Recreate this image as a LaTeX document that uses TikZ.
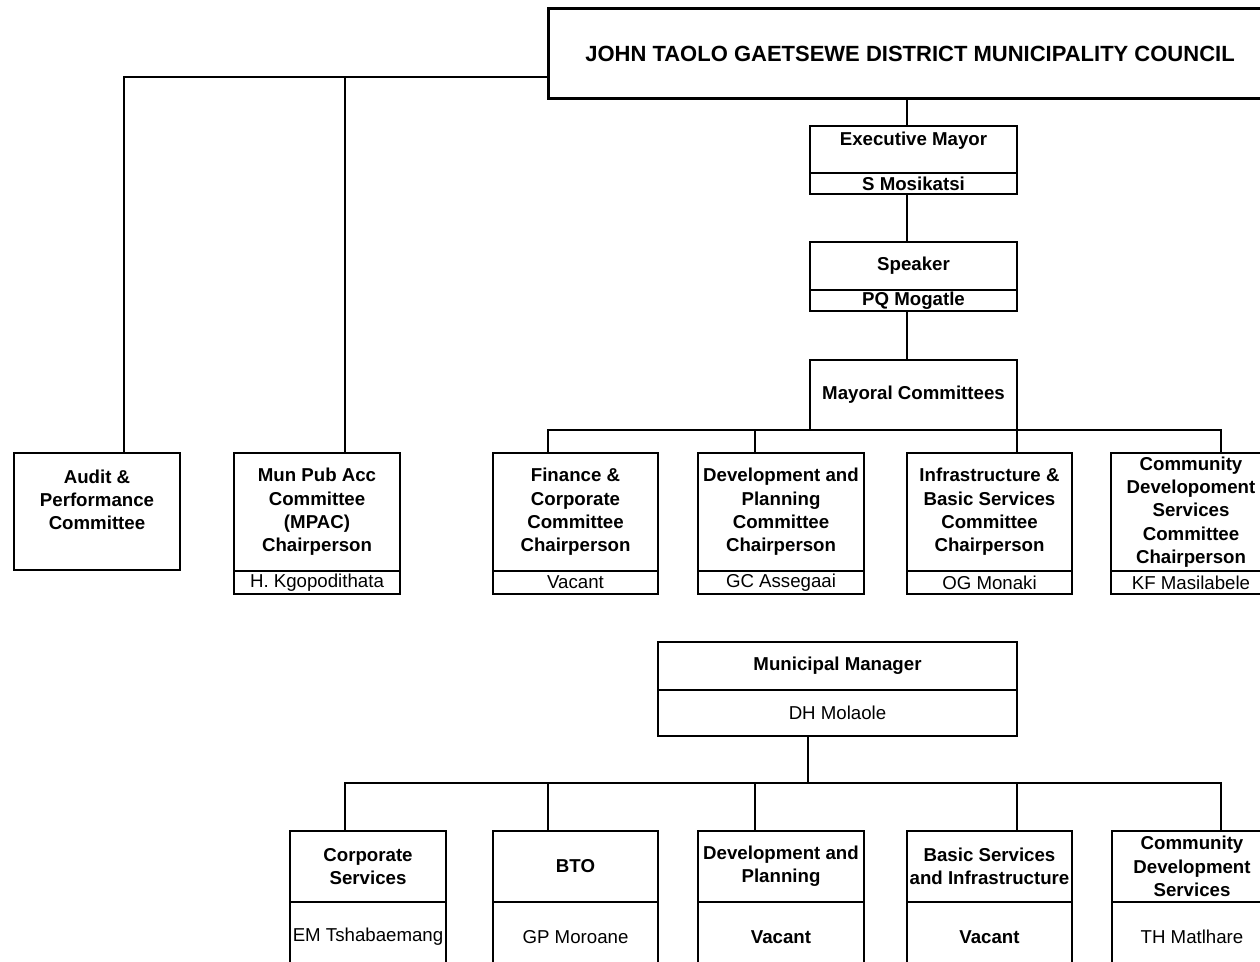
\documentclass[tikz,border=0pt]{standalone}
\usepackage{fontspec}
\setmainfont{Liberation Sans}
\usetikzlibrary{positioning, calc}

\begin{document}
\begin{tikzpicture}[
  x=0.75pt, y=-0.75pt,
  box/.style={draw, line width=1.5pt, inner sep=0pt, outer sep=0pt,
              anchor=north west, align=center,
              font=\bfseries\fontsize{14}{17.5}\selectfont},
  namebox/.style={box, font=\fontsize{14}{17.5}\selectfont},
  wd/.style={minimum width=#1*0.75pt},
  ht/.style={minimum height=#1*0.75pt},
  link/.style={line width=1.5pt},
]
\useasboundingbox (0,0) rectangle (1260,962);

% ---- council and office bearers ----
\node[box, line width=2.25pt, wd=724, ht=90,
      font=\bfseries\fontsize{16.5}{20}\selectfont] (council) at (548,9)
  {JOHN TAOLO GAETSEWE DISTRICT MUNICIPALITY COUNCIL};

\node[box, wd=207, ht=47, text depth=16.7pt] (mayor) at (810,126) {Executive Mayor};
\node[box, wd=207, ht=21, below=0pt of mayor] (mayorname) {S Mosikatsi};

\node[box, wd=207, ht=48] (speaker) at (810,242) {Speaker};
\node[box, wd=207, ht=21, below=0pt of speaker] (speakername) {PQ Mogatle};

\node[box, wd=207, ht=70] (mayoral) at (810,360) {Mayoral Committees};

% ---- committees ----
\node[box, wd=166, ht=117] (audit) at (14,453)
  {Audit \&\\Performance\\Committee\\\mbox{}};

\node[box, wd=166, ht=118] (mpac) at (234,453)
  {Mun Pub Acc\\Committee\\(MPAC)\\Chairperson};
\node[namebox, wd=166, ht=23, below=0pt of mpac] (mpacname) {H. Kgopodithata};

\node[box, wd=165, ht=118] (fin) at (493,453)
  {Finance \&\\Corporate\\Committee\\Chairperson};
\node[namebox, wd=165, ht=23, below=0pt of fin] (finname) {Vacant};

\node[box, wd=166, ht=118] (dev) at (698,453)
  {Development and\\Planning\\Committee\\Chairperson};
\node[namebox, wd=166, ht=23, below=0pt of dev] (devname) {GC Assegaai};

\node[box, wd=165, ht=118] (infra) at (907,453)
  {Infrastructure \&\\Basic Services\\Committee\\Chairperson};
\node[namebox, wd=165, ht=23, below=0pt of infra] (infraname) {OG Monaki};

\node[box, wd=160, ht=118] (comm) at (1111,453)
  {Community\\Developoment\\Services\\Committee\\Chairperson};
\node[namebox, wd=160, ht=23, below=0pt of comm] (commname) {KF Masilabele};

% ---- administration ----
\node[box, wd=359, ht=48] (mm) at (658,642) {Municipal Manager};
\node[namebox, wd=359, ht=46, below=0pt of mm] (mmname) {DH Molaole};

\node[box, wd=156, ht=71] (corp) at (290,831) {Corporate\\Services};
\node[namebox, wd=156, ht=70, below=0pt of corp] (corpname) {EM Tshabaemang};

\node[box, wd=165, ht=71] (bto) at (493,831) {BTO};
\node[namebox, wd=165, ht=70, below=0pt of bto] (btoname) {GP Moroane};

\node[box, wd=166, ht=71] (devp) at (698,831) {Development and\\Planning};
\node[box, wd=166, ht=70, below=0pt of devp] (devpname) {Vacant};

\node[box, wd=165, ht=71] (basic) at (907,831) {Basic Services\\and Infrastructure};
\node[box, wd=165, ht=70, below=0pt of basic] (basicname) {Vacant};

\node[box, wd=160, ht=71] (commd) at (1112,831) {Community\\Development\\Services};
\node[namebox, wd=160, ht=70, below=0pt of commd] (commdname) {TH Matlhare};

% ---- links ----
\coordinate (cjoin) at (council.west |- 0,77);
\coordinate (spine) at (907,0);
\coordinate (mmjoin) at ($(mmname.south)+(-29.5,47)$);

\draw[link] (cjoin) -| ($(audit.north)+(27,0)$);
\draw[link] (cjoin) -| ($(mpac.north)+(28,0)$);

\draw[link] (council.south -| spine) -- (mayor.north -| spine);
\draw[link] (mayorname.south -| spine) -- (speaker.north -| spine);
\draw[link] (speakername.south -| spine) -- (mayoral.north -| spine);

\draw[link] ($(fin.north)+(-27.5,0)$) |- (mayoral.south) -| ($(comm.north)+(30,0)$);
\draw[link] ($(dev.north)+(-26,0)$) |- (mayoral.south);
\draw[link] ($(infra.north)+(27.5,0)$) |- (mayoral.south);

\draw[link] ($(mmname.south)+(-29.5,0)$) -- (mmjoin);
\draw[link] ($(corp.north)+(-23,0)$) |- (mmjoin) -| ($(commd.north)+(29,0)$);
\draw[link] ($(bto.north)+(-27.5,0)$) |- (mmjoin);
\draw[link] ($(devp.north)+(-26,0)$) |- (mmjoin);
\draw[link] ($(basic.north)+(27.5,0)$) |- (mmjoin);

\end{tikzpicture}
\end{document}
